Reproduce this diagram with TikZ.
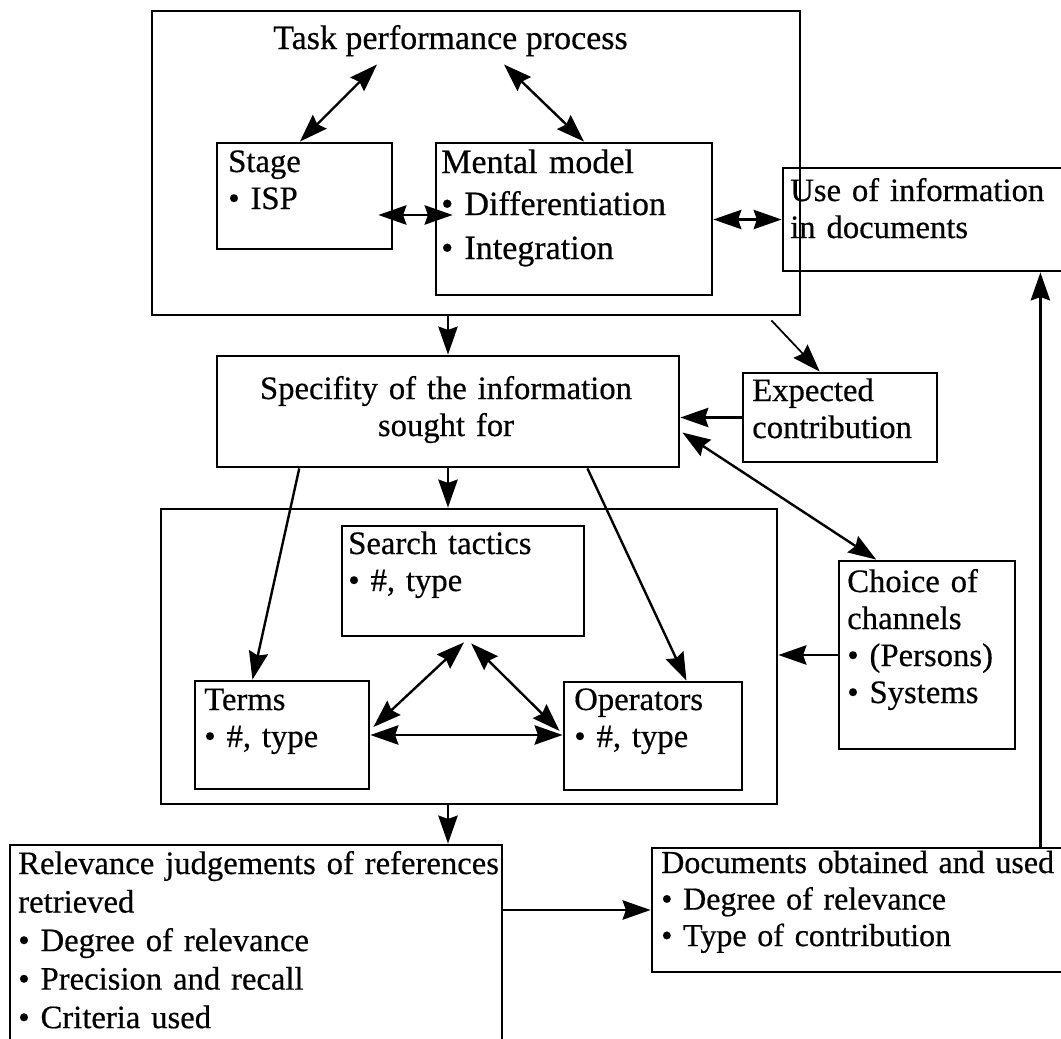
\documentclass[tikz,border=0pt]{standalone}
\usepackage{fontspec}
\setmainfont{Liberation Serif}[FakeBold=0.5]
\usetikzlibrary{arrows.meta,fit,calc}
\begin{document}
\begin{tikzpicture}[x=0.75pt,y=-0.75pt,
  box/.style={draw, line width=2.1pt, inner sep=0pt},
  txt/.style={anchor=base west, inner sep=0pt, align=left, text width=#1,
    font=\fontsize{24.5}{27.75}\selectfont},
  txt/.default=520pt,
  head/.tip={Stealth[length=21pt,width=14.5pt,inset=2.5pt]},
  arr/.style={line width=1.8pt, -head},
  dbl/.style={line width=1.8pt, head-head}]
\useasboundingbox (0,0) rectangle (1061,1039);

% ---------- boxes ----------
\node[box, fit={(152,11)(800,315)}]  (task)   {};
\node[box, fit={(217,143)(392,249)}] (stage)  {};
\node[box, fit={(436,143)(712,295)}] (mental) {};
\node[box, fit={(783,168)(1070,271)}] (use)   {};
\node[box, fit={(217,356)(679,467)}] (spec)   {};
\node[box, fit={(743,373)(937,462)}] (exp)    {};
\node[box, fit={(161,509)(777,804)}] (search) {};
\node[box, fit={(342,526)(584,636)}] (tactics){};
\node[box, fit={(195,681)(369,789)}] (terms)  {};
\node[box, fit={(564,682)(742,790)}] (ops)    {};
\node[box, fit={(839,561)(1015,749)}] (choice){};
\node[box, fit={(10,845)(502,1050)}] (rel)    {};
\node[box, fit={(652,848)(1070,972)}] (docs)  {};

% ---------- texts ----------
\node[anchor=base west, inner sep=0pt, font=\fontsize{25.5}{28}\selectfont]
  (ttl) at (273,49) {Task performance process};
\node[txt] (stage-t) at (228,172) {Stage\\• ISP};
\node[txt, font=\fontsize{25.5}{31.5}\selectfont] (mental-t) at (441,173)
  {Mental model\\• Differentiation\\[1.5pt]• Integration};
\node[txt] (use-t) at (790,201) {Use of information\\in documents};
\node[txt=400pt, anchor=base, align=center] (spec-t) at (446,399)
  {Specifity of the information\\sought for};
\node[txt] (exp-t) at (752,401) {Expected\\contribution};
\node[txt] (tactics-t) at (348,554) {Search tactics\\• \#, type};
\node[txt] (terms-t) at (204,710) {Terms\\• \#, type};
\node[txt] (ops-t) at (574,710) {Operators\\• \#, type};
\node[txt] (choice-t) at (847,592) {Choice of\\channels\\• (Persons)\\• Systems};
\node[txt, font=\fontsize{24.5}{28.9}\selectfont] (rel-t) at (18,874)
  {Relevance judgements of references\\retrieved\\• Degree of relevance\\• Precision and recall\\• Criteria used};
\node[txt, font=\fontsize{24}{27.4}\selectfont] (docs-t) at (661,873)
  {Documents obtained and used\\• Degree of relevance\\• Type of contribution};

% ---------- connectors ----------
\draw[dbl] ($(ttl.south west)+(104,8)$)
        -- ($(stage.north west)!0.474!(stage.north east)$);
\draw[dbl] ($(ttl.south west)+(231,8)$)
        -- ($(mental.north west)!0.536!(mental.north east)$);
\draw[dbl] ($(stage.east)+(-15,19)$) -- ($(mental.west)+(18,-4)$);
\draw[dbl] (mental.east |- use.west) -- (use.west);

\draw[arr] (task.south -| spec.north) -- (spec.north);
\draw[arr, line width=1.3pt] ($(task.south east)+(-30,4)$)
        -- ($(exp.north west)!0.397!(exp.north east)$);
\draw[arr] (exp.west) -- (spec.east |- exp.west);
\draw[dbl] ($(spec.east)+(2,21)$)
        -- ($(choice.north west)!0.216!(choice.north east)$);

\draw[arr] (spec.south) -- (spec.south |- search.north);
\draw[arr] ($(spec.south west)!0.18!(spec.south east)$)
        -- ($(terms.north west)!0.333!(terms.north east)$);
\draw[arr] ($(spec.south west)!0.80!(spec.south east)$)
        -- ($(ops.north west)!0.685!(ops.north east)$);
\draw[arr] (choice.west) -- (search.east |- choice.west);

\draw[dbl] ($(tactics.south west)!0.504!(tactics.south east)+(0,5)$)
        -- ($(terms.east)+(3,-8)$);
\draw[dbl] ($(tactics.south west)!0.533!(tactics.south east)+(0,6)$)
        -- ($(ops.west)+(-3,-5)$);
\draw[dbl] (terms.east) -- (ops.west |- terms.east);

\draw[arr] (search.south -| spec.south) -- (rel.north -| spec.south);
\draw[arr] (rel.east |- docs.west) -- (docs.west);
\draw[arr] ($(docs.north east)+(-31,0)$) -- ($(use.south east)+(-31,0)$);
\end{tikzpicture}
\end{document}
